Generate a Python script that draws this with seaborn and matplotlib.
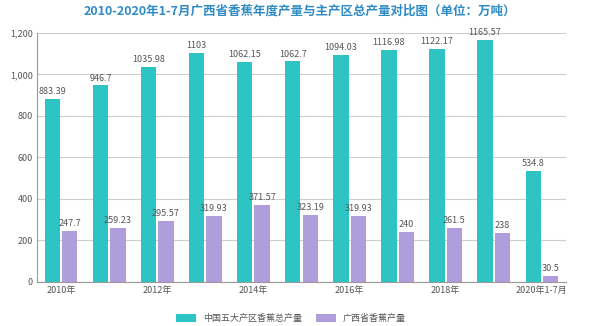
import matplotlib
matplotlib.use("Agg")
import matplotlib.pyplot as plt
import seaborn as sns
import pandas as pd
from matplotlib.ticker import FuncFormatter

years = ["2010年", "2011年", "2012年", "2013年", "2014年", "2015年", "2016年",
         "2017年", "2018年", "2019年", "2020年1-7月"]
tick_labels = ["2010年", "", "2012年", "", "2014年", "", "2016年", "", "2018年", "", "2020年1-7月"]
total = [883.39, 946.7, 1035.98, 1103, 1062.15, 1062.7, 1094.03, 1116.98, 1122.17, 1165.57, 534.8]
guangxi = [247.7, 259.23, 295.57, 319.93, 371.57, 323.19, 319.93, 240, 261.5, 238, 30.5]
total_labels = ["883.39", "946.7", "1035.98", "1103", "1062.15", "1062.7", "1094.03",
                "1116.98", "1122.17", "1165.57", "534.8"]
guangxi_labels = ["247.7", "259.23", "295.57", "319.93", "371.57", "323.19", "319.93",
                  "240", "261.5", "238", "30.5"]
series = ["中国五大产区香蕉总产量", "广西省香蕉产量"]

df = pd.DataFrame({
    "year": years * 2,
    "value": total + guangxi,
    "series": [series[0]] * len(years) + [series[1]] * len(years),
})

sns.set_theme(style="white")
plt.rcParams['font.family'] = ['Noto Sans CJK SC', 'DejaVu Sans']

fig = plt.figure(figsize=(6, 3.26), dpi=100)
ax = fig.add_axes([0.062, 0.135, 0.881, 0.764])

palette = {series[0]: "#2ec4c4", series[1]: "#b09ddb"}
sns.barplot(data=df, x="year", y="value", hue="series", palette=palette,
            width=0.72, gap=0.12, ax=ax, saturation=1, legend=True, linewidth=0)

for cont, labs in zip(ax.containers, [total_labels, guangxi_labels]):
    ax.bar_label(cont, labels=labs, padding=2, fontsize=6.5, color="#555555")

ax.set_ylim(0, 1200)
ax.set_yticks([0, 200, 400, 600, 800, 1000, 1200])
ax.yaxis.set_major_formatter(FuncFormatter(lambda v, p: f"{int(v):,}"))
ax.set_xlim(-0.5, len(years) - 0.5)
ax.set_xticks(range(len(years)))
ax.set_xticklabels(tick_labels)
ax.tick_params(axis="both", labelsize=6.5, colors="#555555", length=0, pad=3)
ax.set_xlabel("")
ax.set_ylabel("")
ax.grid(axis="y", color="#cccccc", linewidth=0.8)
ax.set_axisbelow(True)
for s in ["top", "right"]:
    ax.spines[s].set_visible(False)
ax.spines["left"].set_color("#999999")
ax.spines["bottom"].set_color("#999999")
ax.spines["left"].set_linewidth(0.8)
ax.spines["bottom"].set_linewidth(0.8)

ax.legend(loc="center", bbox_to_anchor=(0.48, -0.145), ncol=2, frameon=False,
          fontsize=6.5, handlelength=2.2, handleheight=1.0, columnspacing=1.5,
          labelcolor="#555555", borderpad=0.2)

fig.suptitle("2010-2020年1-7月广西省香蕉年度产量与主产区总产量对比图（单位：万吨）",
             x=0.5, y=0.985, fontsize=9, fontweight="bold", color="#2e8bc4")

fig.savefig("out.png", dpi=100)
